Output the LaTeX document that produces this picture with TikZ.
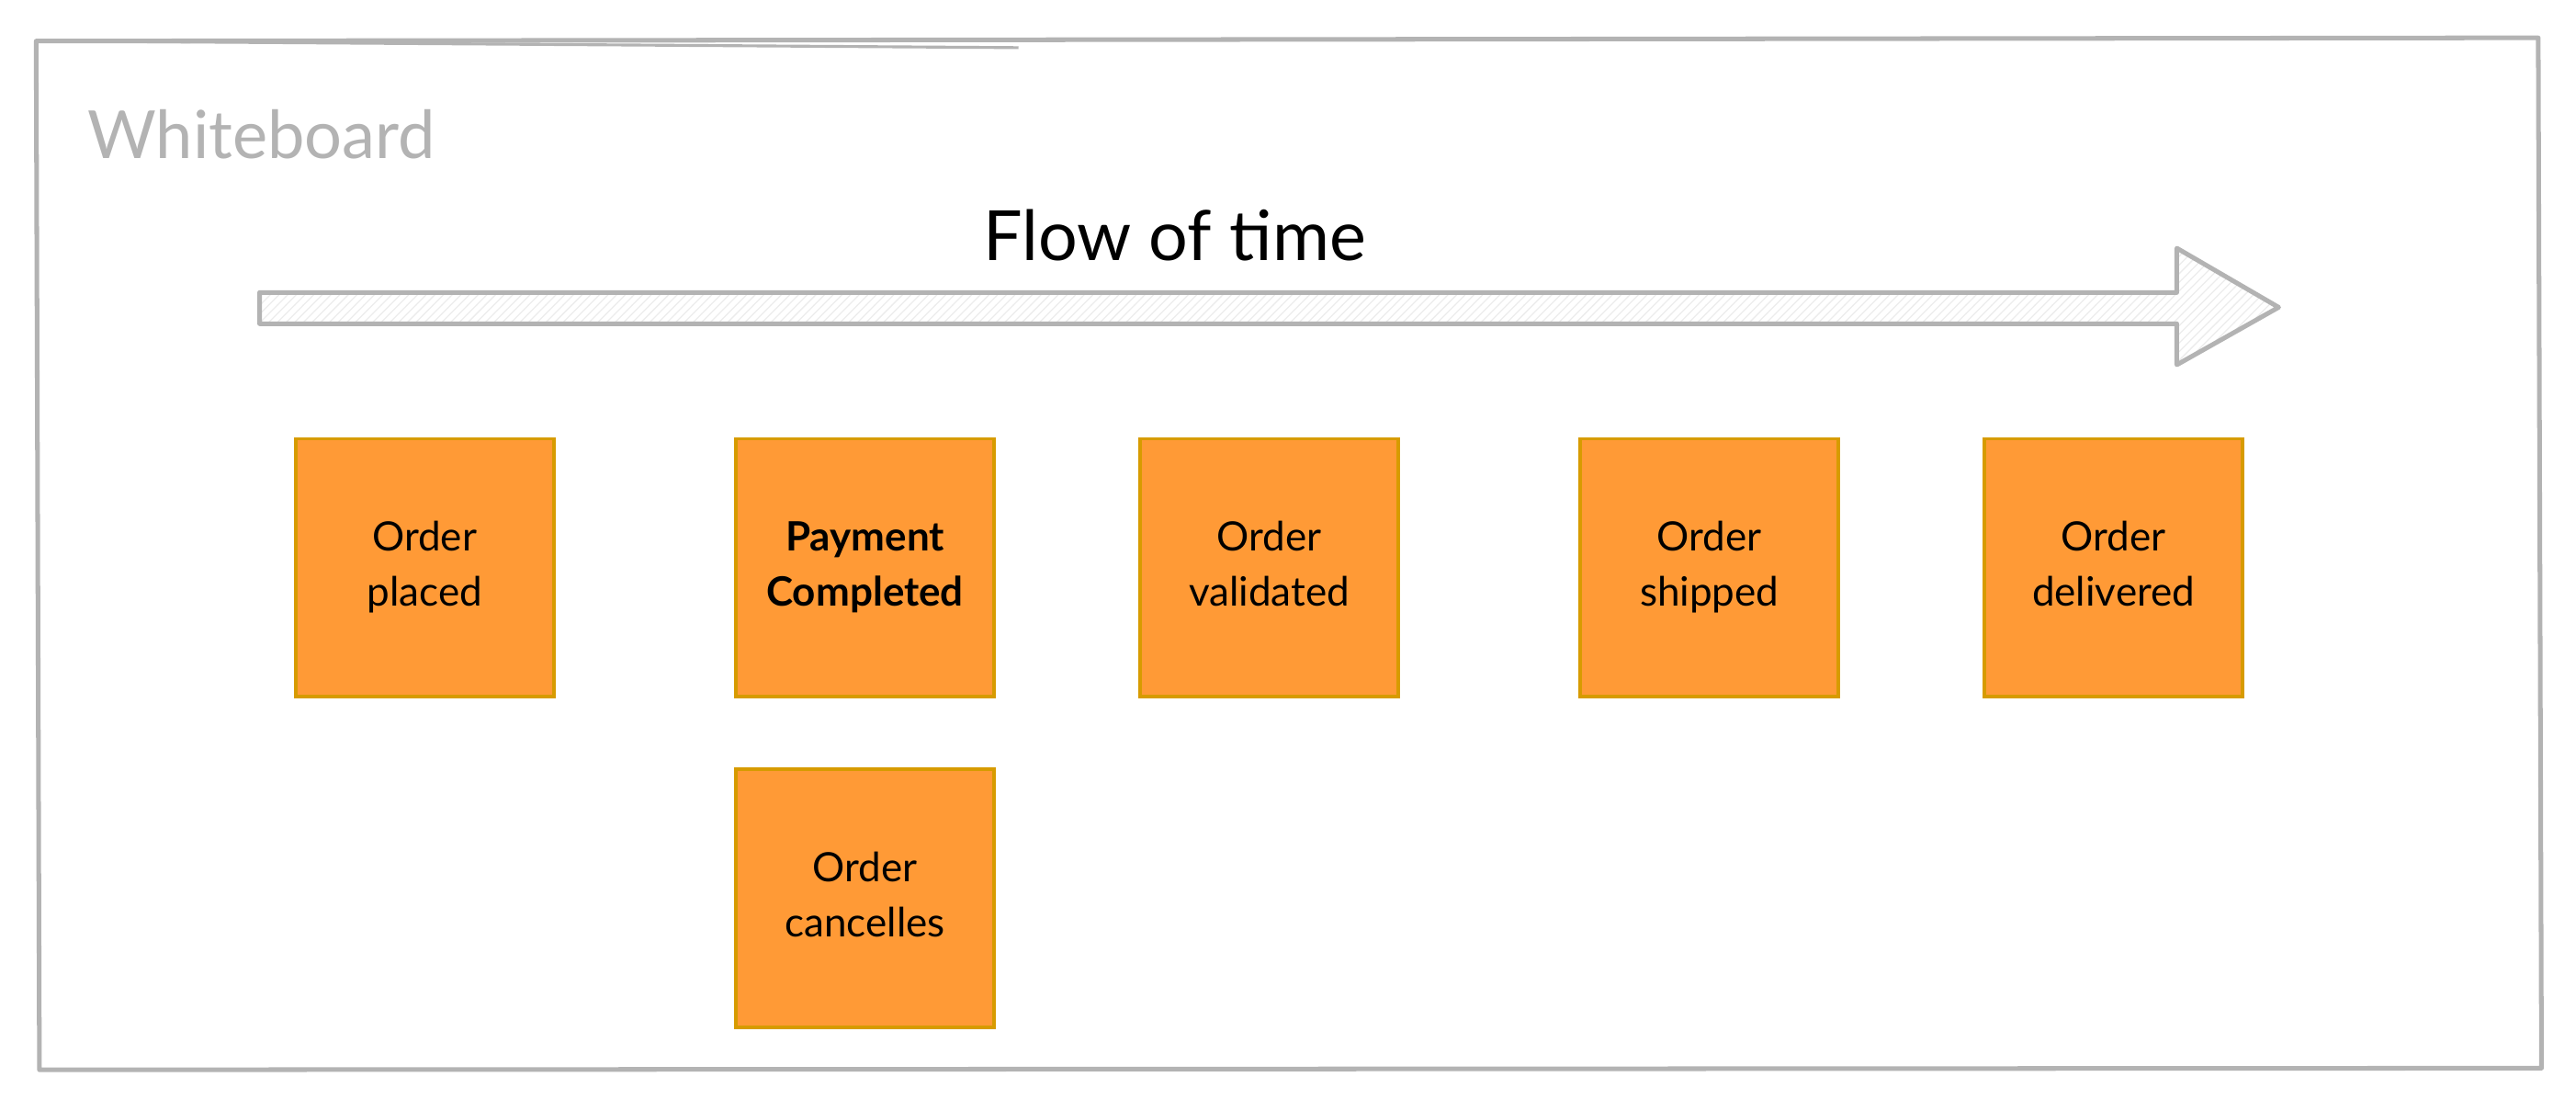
\documentclass[tikz,border=0pt]{standalone}
\usepackage{fontspec}
\setmainfont{Lato}
\usepackage{tikz}
\usetikzlibrary{patterns}
\usetikzlibrary{positioning}
\usepackage{xcolor}
\definecolor{boardgray}{HTML}{B3B3B3}
\definecolor{notefill}{HTML}{FF9A36}
\definecolor{noteline}{HTML}{D79B00}

\begin{document}
\begin{tikzpicture}[x=0.02cm,y=-0.02cm,
  note/.style={draw=noteline,fill=notefill,line width=1.2pt,minimum size=3.14cm,
    align=center,font=\fontsize{14}{19}\selectfont,inner sep=0pt}]
\useasboundingbox (0,0) rectangle (1568,676);
% whiteboard frame
\draw[boardgray,line width=1.6pt,line join=round] (22,25)--(1545,23)--(1547,650)--(24,651)--cycle;
\draw[boardgray,line width=1pt] (30,25)--(620,29);
\node[anchor=west,text=boardgray,font=\fontsize{23}{28}\selectfont] (board) at (47,82) {Whiteboard};
% flow of time arrow
\draw[boardgray,line width=1.6pt,line join=round,pattern=north east lines,pattern color=boardgray!25]
  (158,178)--(1325,178)--(1325,151)--(1387,187)--(1325,222)--(1325,197)--(158,197)--cycle;
\node[font=\fontsize{24}{28}\selectfont] (flow) at (715,143) {Flow of time};
% events
\node[note] (placed) at (258.5,345.5) {\strut Order\\placed\strut};
\node[note,font=\fontsize{14}{19}\selectfont\bfseries] (paid) at (526.5,345.5) {\strut Payment\\Completed\strut};
\node[note] (valid) at (772.5,345.5) {\strut Order\\validated\strut};
\node[note] (shipped) at (1040.5,345.5) {\strut Order\\shipped\strut};
\node[note] (delivered) at (1286.5,345.5) {\strut Order\\delivered\strut};
\node[note] (cancel) at (526.5,546.5) {\strut Order\\cancelles\strut};
\end{tikzpicture}
\end{document}
